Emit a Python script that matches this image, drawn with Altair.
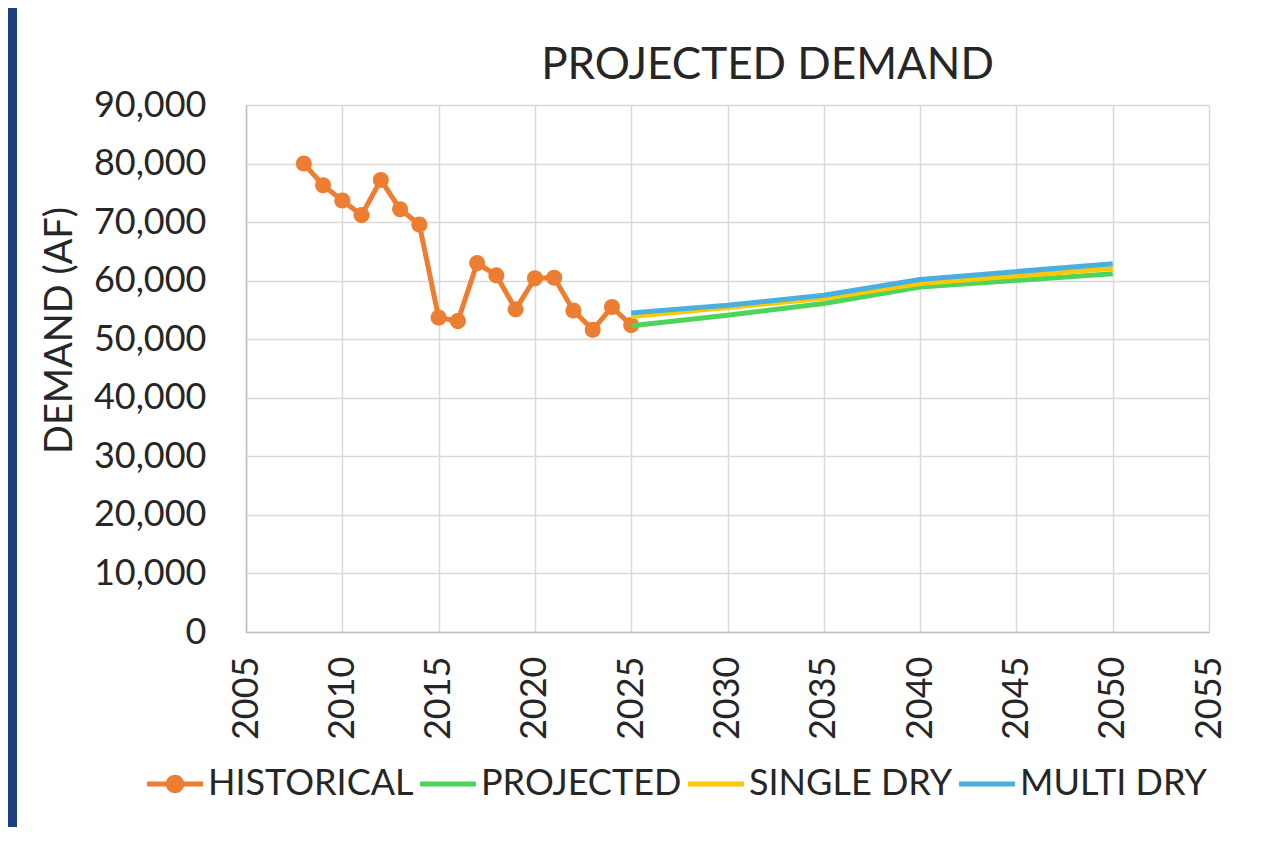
import altair as alt
import pandas as pd

FONT = "Lato"
TEXT = "#262626"

series_names = ["HISTORICAL", "PROJECTED", "SINGLE DRY", "MULTI DRY"]
series_colors = ["#ED7D31", "#4CD55A", "#FFC800", "#47B0E0"]

hist_years = [2008, 2009, 2010, 2011, 2012, 2013, 2014, 2015, 2016, 2017,
              2018, 2019, 2020, 2021, 2022, 2023, 2024, 2025]
hist_values = [80000, 76300, 73700, 71200, 77200, 72200, 69600, 53700, 53100, 63000,
               60900, 55100, 60400, 60500, 54900, 51600, 55500, 52400]

proj_years = [2025, 2030, 2035, 2040, 2050]
projected = [52300, 54100, 56100, 58900, 61200]
single_dry = [53900, 55400, 57000, 59500, 62100]
multi_dry = [54500, 55800, 57500, 60200, 62900]

hist_df = pd.DataFrame({"series": "HISTORICAL", "year": hist_years, "value": hist_values})
proj_df = pd.concat([
    pd.DataFrame({"series": "PROJECTED", "year": proj_years, "value": projected}),
    pd.DataFrame({"series": "SINGLE DRY", "year": proj_years, "value": single_dry}),
    pd.DataFrame({"series": "MULTI DRY", "year": proj_years, "value": multi_dry}),
], ignore_index=True)
# legend-only rows, placed outside the x domain and clipped away
legend_df = pd.DataFrame({"series": series_names, "year": [1990] * 4, "value": [0] * 4})

# legend symbol shapes: line segment (+ dot for the historical series)
bar = "M-1,-0.09H1V0.09H-1Z"
dot = "M0.33,0A0.33,0.33,0,1,1,-0.33,0A0.33,0.33,0,1,1,0.33,0Z"
legend_shapes = [bar + dot, bar, bar, bar]

x_enc = alt.X("year:Q", scale=alt.Scale(domain=[2005, 2055], nice=False, zero=False),
              axis=alt.Axis(values=list(range(2005, 2056, 5)), format="d", title=None,
                            labelAngle=-90, labelPadding=24, ticks=False,
                            labelFontSize=36, labelFont=FONT, labelColor=TEXT,
                            grid=True, gridColor="#D9D9D9", gridWidth=1.5,
                            domainColor="#BFBFBF", domainWidth=1.5, labelFlush=False))
y_enc = alt.Y("value:Q", scale=alt.Scale(domain=[0, 90000], nice=False),
              axis=alt.Axis(values=list(range(0, 90001, 10000)), format=",d",
                            title="DEMAND (AF)", titleFontSize=38, titleFont=FONT,
                            titleFontWeight="normal", titleColor=TEXT,
                            titleAngle=270, titleX=-175, titleY=225,
                            titleAlign="center", titleBaseline="alphabetic",
                            labelPadding=40, ticks=False,
                            labelFontSize=36, labelFont=FONT, labelColor=TEXT,
                            grid=True, gridColor="#D9D9D9", gridWidth=1.5,
                            domainColor="#BFBFBF", domainWidth=1.5))


def cscale():
    return alt.Scale(domain=series_names, range=series_colors)


stripe = alt.Chart(alt.Data(values=[{}])).mark_rect(color="#1D3F7F").encode(
    x=alt.value(-238), x2=alt.value(-229), y=alt.value(-97), y2=alt.value(740))

hist_line = alt.Chart(hist_df).mark_line(strokeWidth=5).encode(
    x=x_enc, y=y_enc, color=alt.Color("series:N", scale=cscale(), legend=None))
hist_pts = alt.Chart(hist_df).mark_point(filled=True, size=260, opacity=1).encode(
    x="year:Q", y="value:Q", color=alt.Color("series:N", scale=cscale(), legend=None))
proj_lines = alt.Chart(proj_df).mark_line(strokeWidth=5).encode(
    x="year:Q", y="value:Q", color=alt.Color("series:N", scale=cscale(), legend=None),
    order=alt.Order("year:Q"))

legend_layer = alt.Chart(legend_df).mark_point(filled=True, opacity=1, clip=True).encode(
    x="year:Q", y="value:Q",
    color=alt.Color("series:N", scale=cscale(),
                    legend=alt.Legend(title=None, orient="none", legendX=-99, legendY=651,
                                      direction="horizontal", columns=4,
                                      symbolSize=3136, symbolStrokeWidth=0, symbolOpacity=1,
                                      labelFontSize=36, labelFont=FONT, labelColor=TEXT,
                                      labelOffset=5, columnPadding=6, labelLimit=400)),
    shape=alt.Shape("series:N", scale=alt.Scale(domain=series_names, range=legend_shapes)))

chart = alt.layer(stripe, hist_line, hist_pts, proj_lines, legend_layer).resolve_scale(
    color="independent", shape="independent"
).resolve_legend(color="independent", shape="independent").properties(
    width=963, height=527,
    title=alt.TitleParams("PROJECTED DEMAND", fontSize=44, font=FONT, fontWeight="normal",
                          color=TEXT, anchor="middle", dx=40, offset=0, dy=80),
    autosize=alt.AutoSizeParams(type="none"),
    padding={"left": 238, "top": 97, "right": 40, "bottom": 195},
    background="white",
).configure_view(stroke=None)

chart.save("out.html", embed_options={"renderer": "svg", "actions": False})
